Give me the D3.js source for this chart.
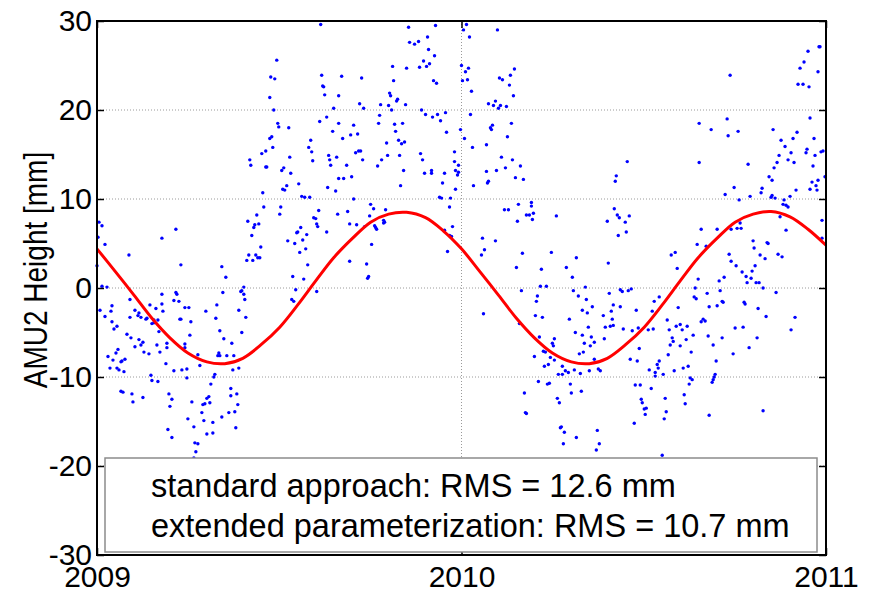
<!DOCTYPE html>
<html>
<head>
<meta charset="utf-8">
<script src="https://cdn.jsdelivr.net/npm/d3@7"></script>
<style>
  body { margin: 0; background: #fff; }
  text { font-family: "Liberation Sans", Arial, Helvetica, sans-serif; fill: #000; }
</style>
</head>
<body>
<script>
// AMU2 height series, 2009-2011

let w = 872;
let h = 592;
let margin = { top: 21, right: 46, bottom: 37, left: 97 };

// daily solutions: [day since 2009-01-01, height in mm]
let observations = [
  [224,29.6],[180,25.6],[174,23.7],[178,23.5],[225,23.9],[226,22.7],[227,22.6],[228,21.7],[173,21.4],[237,20.2],
  [177,20.0],[242,21.6],[230,19.2],[223,18.7],[181,18.5],[182,18.1],[192,18.0],[242,18.5],[236,17.6],[175,17.0],
  [173,16.8],[214,16.6],[212,15.8],[215,15.3],[176,15.8],[169,15.4],[165,15.1],[232,14.9],[233,14.4],[240,14.7],
  [242,12.3],[241,8.3],[239,10.9],[153,14.4],[154,13.8],[216,14.3],[193,14.7],[169,13.6],[170,13.6],[234,13.8],
  [187,13.5],[185,13.2],[194,12.9],[190,11.5],[186,11.1],[188,11.0],[202,11.7],[231,11.3],[166,10.7],[205,10.3],
  [208,10.2],[213,10.2],[167,9.1],[184,9.1],[183,8.3],[222,8.7],[160,8.2],[217,7.9],[219,7.8],[151,7.5],
  [158,7.1],[157,6.8],[162,7.2],[220,7.2],[221,6.9],[204,6.8],[201,6.3],[200,6.2],[210,6.0],[155,5.9],
  [230,6.3],[191,5.3],[198,5.0],[206,5.4],[164,4.6],[203,4.0],[209,4.4],[152,3.7],[150,3.1],[156,3.1],
  [159,3.7],[161,3.4],[163,3.4],[211,2.6],[196,1.3],[207,1.0],[2,7.4],[5,7.0],[1,5.7],[8,4.9],
  [0,2.5],[32,3.7],[65,5.6],[79,6.6],[84,2.6],[125,2.4],[129,1.2],[147,0.1],[144,-0.4],[5,0.2],[10,0.1],
  [33,-1.3],[65,-0.7],[79,-0.5],[80,-0.7],[77,-1.4],[82,-1.5],[126,-0.5],[145,-0.3],[147,-0.7],[148,-1.3],
  [3,-2.5],[8,-3.2],[14,-2.6],[15,-2.0],[15,-3.8],[17,-4.6],[20,-4.3],[33,-3.3],[38,-2.5],[42,-2.8],
  [41,-3.1],[44,-3.3],[53,-1.9],[59,-2.3],[65,-1.8],[66,-2.6],[50,-3.4],[49,-3.5],[57,-3.6],[61,-3.6],
  [55,-4.0],[57,-3.9],[62,-4.9],[30,-5.2],[34,-5.6],[42,-5.8],[46,-6.1],[44,-6.4],[38,-6.6],[21,-6.9],
  [19,-7.3],[28,-8.0],[25,-8.2],[24,-8.3],[11,-7.7],[16,-8.1],[13,-9.0],[20,-9.0],[22,-9.2],[27,-9.4],
  [47,-7.2],[52,-7.4],[60,-6.4],[63,-7.2],[70,-6.2],[70,-6.7],[69,-8.5],[77,-9.3],[85,-9.2],[90,-9.1],
  [88,-6.3],[88,-6.7],[93,-5.3],[88,-2.2],[92,-2.2],[94,-3.8],[83,-3.5],[84,-3.5],[109,-2.6],[120,-1.9],
  [119,-3.4],[123,-4.8],[127,-5.7],[135,-6.2],[122,-7.3],[123,-7.6],[130,-7.6],[137,-7.6],[121,-7.6],[101,-7.5],
  [103,-8.7],[118,-9.7],[117,-10.0],[136,-9.2],[142,-9.0],[142,-2.5],[149,-3.3],[145,-5.0],[54,-9.8],[55,-10.4],
  [61,-10.5],[90,-10.1],[24,-11.6],[26,-11.7],[35,-11.9],[36,-12.8],[46,-12.3],[72,-11.9],[75,-12.5],[73,-13.3],
  [114,-10.8],[112,-12.2],[113,-12.9],[110,-12.4],[108,-13.0],[106,-13.1],[105,-14.0],[95,-12.8],[91,-14.7],[97,-15.6],
  [107,-14.9],[116,-15.1],[125,-14.5],[132,-14.0],[138,-13.9],[141,-13.1],[134,-12.1],[140,-11.9],[134,-11.3],[71,-15.9],
  [75,-16.8],[110,-16.4],[116,-16.3],[139,-15.7],[98,-17.4],[101,-17.5],[99,-18.4],[97,-19.1],[195,-1.3],[197,-1.5],
  [199,-0.2],[220,-0.4],
  [312,29.3],[339,29.5],[367,29.0],[370,29.6],[401,29.0],[313,27.6],[318,27.4],[322,27.7],[331,28.2],[373,28.2],
  [332,26.8],[338,26.1],[327,25.5],[330,24.9],[333,25.2],[323,24.8],[296,24.9],[310,24.7],[365,25.0],[372,24.7],
  [369,24.3],[418,24.6],[414,23.9],[403,23.6],[406,23.4],[245,23.8],[265,23.6],[297,23.3],[337,23.3],[340,23.0],
  [366,23.3],[371,23.4],[413,22.8],[375,22.1],[293,21.9],[294,21.6],[417,21.6],[300,21.0],[301,21.2],[263,20.7],
  [267,20.2],[284,20.6],[292,20.5],[309,20.6],[295,20.0],[325,20.0],[329,19.5],[336,19.2],[341,19.5],[349,19.7],
  [344,18.8],[283,19.4],[392,20.7],[397,20.5],[399,21.0],[402,20.2],[404,20.5],[410,20.4],[374,19.5],[257,18.3],
  [246,16.8],[254,17.2],[261,17.3],[282,18.5],[298,18.4],[306,18.5],[299,17.6],[302,16.6],[305,16.2],[308,16.4],
  [396,18.3],[394,18.0],[395,17.8],[415,18.5],[364,17.8],[350,17.5],[411,17.0],[368,16.8],[390,16.1],[290,16.3],
  [259,15.2],[262,15.4],[264,15.4],[303,14.9],[291,14.9],[324,15.1],[326,14.4],[358,15.3],[358,14.2],[376,15.8],
  [266,14.4],[285,14.4],[281,13.7],[405,14.7],[416,14.4],[424,13.7],[409,13.5],[250,13.8],[359,13.2],[362,13.8],
  [362,13.0],[361,12.7],[307,13.2],[328,12.9],[335,13.2],[335,12.9],[348,12.9],[390,13.1],[400,13.2],[247,12.3],
  [255,12.5],[419,12.4],[427,12.2],[392,12.0],[391,11.8],[346,11.8],[377,11.5],[304,11.5],[359,11.1],[343,10.2],
  [345,10.1],[354,10.1],[257,10.0],[435,9.6],[435,9.2],[422,9.4],[274,9.4],[277,8.9],[289,8.8],[353,9.1],
  [408,8.8],[412,8.8],[251,8.6],[430,8.2],[433,8.2],[437,8.4],[436,7.7],[460,8.1],[273,8.1],[253,7.2],
  [260,7.1],[268,6.9],[287,7.6],[287,7.3],[288,7.4],[278,7.0],[280,6.6],[279,6.8],[421,7.5],[356,6.9],
  [348,6.5],[353,5.9],[355,5.8],[275,4.9],[386,5.6],[399,5.3],[388,4.3],[385,3.7],[351,4.1],[426,3.9],
  [455,4.0],[253,3.0],[270,2.7],[272,1.3],[271,1.1],[420,2.3],[445,2.1],[470,2.3],[480,3.4],[476,1.2],
  [444,0.2],[450,0.2],[425,-0.3],[477,-0.3],
  [482,-0.9],[441,-0.9],[440,-1.5],[387,-2.9],[423,-4.0],[439,-3.1],[446,-3.3],[473,-3.5],[479,-5.0],[443,-5.5],
  [458,-5.7],[456,-6.2],[457,-6.5],[447,-7.1],[449,-7.2],[438,-7.7],[454,-7.8],[458,-8.1],[483,-7.4],[487,-7.2],
  [448,-8.8],[452,-8.6],[466,-8.8],[469,-9.3],[472,-9.5],[478,-9.2],[484,-9.6],[462,-9.7],[466,-9.7],[442,-10.5],
  [451,-10.8],[453,-10.7],[474,-10.8],[428,-11.8],[475,-11.8],[485,-11.6],[461,-12.4],[463,-12.9],[429,-14.0],[430,-14.1],
  [464,-15.7],[465,-15.6],[468,-16.2],[480,-16.8],[467,-17.5],
  [634,23.9],[723,27.1],[724,27.1],[712,26.6],[708,25.4],[704,24.7],[722,24.3],[702,22.9],[707,22.9],[713,22.6],
  [714,19.1],[631,19.0],[603,18.5],[615,17.8],[632,17.1],[642,17.6],[677,17.8],[603,14.1],[685,16.6],[689,15.9],
  [683,14.9],[697,16.8],[701,17.5],[692,14.4],[695,15.2],[698,14.1],[681,14.1],[678,13.5],[673,12.5],[676,12.1],
  [718,16.8],[711,15.6],[710,15.2],[719,14.9],[725,15.3],[727,15.4],[717,13.7],[729,12.5],[652,13.9],[531,14.2],
  [520,12.6],[519,12.0],[638,11.3],[629,10.5],[643,9.9],[654,10.3],[665,10.7],[666,11.2],[700,11.0],[694,10.3],
  [675,10.2],[676,10.4],[679,10.1],[688,9.9],[687,9.4],[690,9.3],[692,9.1],[716,11.9],[714,11.1],[720,11.5],
  [721,11.0],[722,12.1],[518,8.9],[521,8.2],[523,7.9],[533,8.1],[511,7.5],[529,7.4],[522,5.9],[530,6.3],
  [684,8.0],[690,6.5],[726,7.6],[726,5.6],[644,7.3],[641,6.7],[645,6.7],[635,6.6],[621,6.6],[605,6.6],
  [601,4.9],[610,4.7],[657,5.3],[658,4.5],[671,5.1],[672,5.0],[575,3.7],[579,4.0],[581,2.2],[512,2.8],
  [633,3.8],[635,3.0],[640,2.5],[646,1.8],[650,1.3],[651,0.6],[655,1.1],[656,1.9],[659,2.5],[664,3.7],
  [669,3.3],[660,0.6],[663,0.6],[682,3.8],[686,3.5],[628,1.2],[623,0.8],[602,1.0],[599,0.0],[680,-0.5],
  [489,0.1],[524,-0.2],[526,-0.4],[532,-0.3],[535,-0.1],[513,-0.6],[611,-0.6],[624,-0.3],
  [598,-1.0],[600,-1.2],[626,-1.5],[627,-1.6],[648,-1.6],[649,-1.8],[667,0.0],[490,-1.3],[496,-2.1],[491,-2.8],
  [517,-1.9],[515,-2.6],[524,-2.1],[516,-3.5],[507,-3.1],[540,-2.5],[556,-2.6],[558,-1.5],[563,-1.0],[582,-2.2],
  [613,-2.1],[621,-2.0],[609,-3.7],[607,-3.5],[605,-3.8],[662,-2.3],[670,-3.2],[699,-3.3],[695,-4.7],[639,-4.5],
  [647,-4.4],[661,-5.6],[486,-2.5],[492,-4.4],[486,-5.3],[509,-4.4],[514,-4.3],[517,-4.2],[527,-4.6],[536,-4.8],
  [542,-4.5],[552,-4.7],[557,-4.6],[571,-3.6],[573,-4.7],[580,-4.3],[584,-4.1],[586,-4.7],[591,-4.3],[495,-5.5],
  [498,-6.1],[494,-6.5],[508,-5.7],[488,-6.2],[576,-5.6],[577,-6.0],[574,-6.4],[584,-6.5],[590,-5.8],[597,-5.3],
  [595,-7.2],[612,-5.4],[617,-6.4],[626,-5.6],[637,-7.4],[653,-6.7],[543,-6.8],[572,-7.5],[534,-8.0],[541,-8.2],
  [498,-8.0],[502,-9.1],[504,-9.3],[493,-9.3],[561,-8.6],[563,-8.2],[562,-9.0],[559,-9.5],[559,-9.9],[567,-9.7],
  [553,-9.2],[578,-9.3],[587,-9.0],[592,-8.8],[594,-10.1],[596,-10.3],[593,-10.8],[620,-8.2],[619,-9.7],[618,-10.0],
  [616,-10.6],[617,-10.3],[539,-10.9],[544,-10.9],[555,-11.3],[545,-12.5],[546,-12.9],[548,-13.6],[550,-13.5],[549,-14.2],
  [538,-15.2],[569,-12.4],[570,-13.9],[568,-14.7],[588,-12.0],[589,-13.0],[613,-14.3],[667,-13.8],[501,-16.0],[503,-17.5],
  [500,-18.2],[566,-18.8]
];

// seasonal model curve
let fitDays = [0, 18, 37, 55, 73, 91, 110, 128, 146, 164, 183, 201, 219, 237, 256, 274, 292, 310, 329, 347,
               365, 383, 402, 420, 438, 456, 475, 493, 511, 529, 548, 566, 584, 602, 621, 639, 657, 675, 694, 712, 730];
let fitMm = [4.4, 1.9, -0.8, -3.4, -5.6, -7.3, -8.3, -8.5, -7.9, -6.4, -4.4, -1.9, 0.8, 3.4, 5.6, 7.4, 8.3, 8.5, 7.9, 6.4,
             4.4, 1.9, -0.8, -3.4, -5.6, -7.3, -8.3, -8.5, -7.9, -6.4, -4.4, -1.9, 0.8, 3.4, 5.6, 7.4, 8.3, 8.6, 8.0, 6.6, 4.8];

let yTicks = [-30, -20, -10, 0, 10, 20, 30];
let gridValues = [-20, -10, 0, 10, 20];
let legendLines = ['standard approach: RMS = 12.6 mm', 'extended parameterization: RMS = 10.7 mm'];

let start = new Date(2009, 0, 1);
let end = new Date(2011, 0, 1);
let dayToDate = d => d3.timeDay.offset(start, d);

let iw = w - margin.left - margin.right;
let ih = h - margin.top - margin.bottom;

let svg = d3.select('body').append('svg')
    .attr('width', w)
    .attr('height', h);

let g = svg.append('g').attr('transform', `translate(${margin.left},${margin.top})`);

let x = d3.scaleTime().domain([start, end]).range([0, iw]);
let y = d3.scaleLinear().domain([-30, 30]).range([ih, 0]);
let years = x.ticks(d3.timeYear.every(1));

// dotted grid
g.selectAll('.hgrid')
    .data(gridValues)
    .enter()
    .append('line')
    .attr('x1', 0).attr('x2', iw)
    .attr('y1', d => y(d)).attr('y2', d => y(d))
    .attr('stroke', '#9a9a9a')
    .attr('stroke-width', 1)
    .attr('stroke-dasharray', '1,2');

g.selectAll('.vgrid')
    .data(years.slice(1, -1))
    .enter()
    .append('line')
    .attr('x1', d => x(d)).attr('x2', d => x(d))
    .attr('y1', 0).attr('y2', ih)
    .attr('stroke', '#9a9a9a')
    .attr('stroke-width', 1)
    .attr('stroke-dasharray', '1,2');

// observations
g.selectAll('circle')
    .data(observations)
    .enter()
    .append('circle')
    .attr('cx', d => x(dayToDate(d[0])))
    .attr('cy', d => y(d[1]))
    .attr('r', 1.7)
    .attr('fill', '#0000ff');

// model curve
let fit = fitDays.map((d, i) => [d, fitMm[i]]);
let line = d3.line()
    .x(d => x(dayToDate(d[0])))
    .y(d => y(d[1]))
    .curve(d3.curveCatmullRom);

g.append('path')
    .datum(fit)
    .attr('d', line)
    .attr('fill', 'none')
    .attr('stroke', '#ff0000')
    .attr('stroke-width', 3);

// legend box
let legend = svg.append('g');
legend.append('rect')
    .attr('x', 105).attr('y', 458)
    .attr('width', 712).attr('height', 94)
    .attr('fill', '#fff')
    .attr('stroke', '#8c8c8c')
    .attr('stroke-width', 1.5);

legend.selectAll('text')
    .data(legendLines)
    .enter()
    .append('text')
    .attr('x', 151)
    .attr('y', (d, i) => 497 + i * 40)
    .attr('font-size', '32.5px')
    .text(d => d);

// axes (plain hyphen for negatives, like the original)
let plain = d => String(d);
let yAxisL = d3.axisLeft(y).tickValues(yTicks).tickSize(-7).tickPadding(5).tickFormat(plain);
let yAxisR = d3.axisRight(y).tickValues(yTicks).tickSize(-7).tickFormat('');
let xAxisB = d3.axisBottom(x).tickValues(years).tickSize(-7).tickPadding(11).tickFormat(d3.timeFormat('%Y'));
let xAxisT = d3.axisTop(x).tickValues(years).tickSize(-7).tickFormat('');

function styleAxis(sel) {
    sel.select('.domain').remove();
    sel.selectAll('line').attr('stroke', '#000').attr('stroke-width', 1.5);
    sel.selectAll('text').attr('font-size', '30px').attr('font-family', '"Liberation Sans", Arial, sans-serif');
}

g.append('g').call(yAxisL).call(styleAxis);
g.append('g').attr('transform', `translate(${iw},0)`).call(yAxisR).call(styleAxis);
g.append('g').attr('transform', `translate(0,${ih})`).call(xAxisB).call(styleAxis);
g.append('g').call(xAxisT).call(styleAxis);

// frame
g.append('rect')
    .attr('x', 0).attr('y', 0)
    .attr('width', iw).attr('height', ih)
    .attr('fill', 'none')
    .attr('stroke', '#000')
    .attr('stroke-width', 2);

// y title, glyphs a little taller as in the original
svg.append('text')
    .attr('transform', 'translate(47,270) rotate(-90) scale(1,1.18)')
    .attr('text-anchor', 'middle')
    .attr('font-size', '28px')
    .text('AMU2 Height [mm]');
</script>
</body>
</html>
